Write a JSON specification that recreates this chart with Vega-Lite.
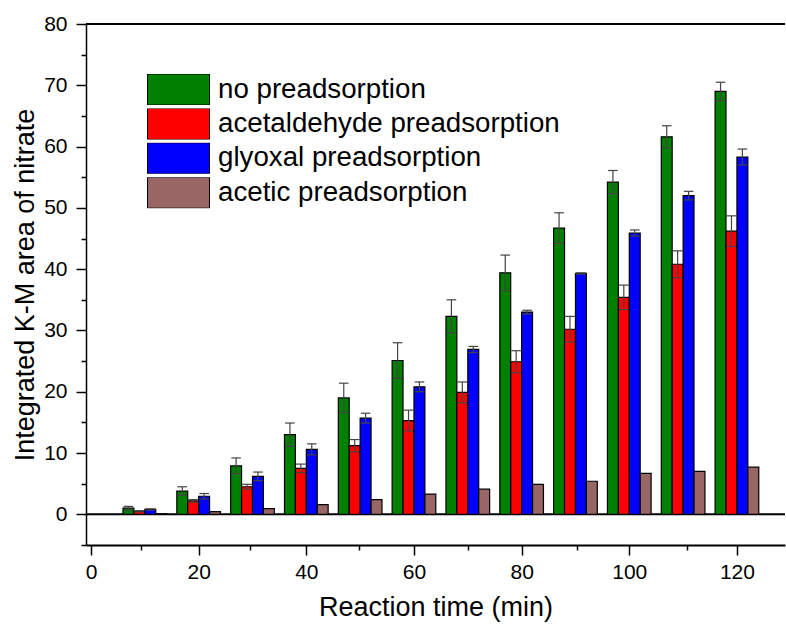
{
  "$schema": "https://vega.github.io/schema/vega-lite/v6.json",
  "width": 699,
  "height": 521,
  "autosize": {"type": "none"},
  "padding": {"left": 86, "top": 24, "right": 1, "bottom": 84},
  "background": "white",
  "config": {
    "font": "Liberation Sans",
    "view": {"stroke": null},
    "axis": {
      "grid": false,
      "domainColor": "black",
      "tickColor": "black",
      "labelColor": "black",
      "titleColor": "black",
      "labelFont": "Liberation Sans",
      "titleFont": "Liberation Sans",
      "titleFontWeight": "normal"
    }
  },
  "resolve": {"scale": {"x": "independent", "y": "independent"}},
  "datasets": {
    "bars": [
      {"t": 10, "s": "no preadsorption", "v": 1.0, "lo": 0.7, "hi": 1.3},
      {"t": 20, "s": "no preadsorption", "v": 3.8, "lo": 3.1, "hi": 4.5},
      {"t": 30, "s": "no preadsorption", "v": 7.9, "lo": 6.6, "hi": 9.2},
      {"t": 40, "s": "no preadsorption", "v": 13.0, "lo": 11.1, "hi": 14.9},
      {"t": 50, "s": "no preadsorption", "v": 19.0, "lo": 16.6, "hi": 21.4},
      {"t": 60, "s": "no preadsorption", "v": 25.1, "lo": 22.2, "hi": 28.0},
      {"t": 70, "s": "no preadsorption", "v": 32.3, "lo": 29.6, "hi": 35.0},
      {"t": 80, "s": "no preadsorption", "v": 39.4, "lo": 36.5, "hi": 42.3},
      {"t": 90, "s": "no preadsorption", "v": 46.7, "lo": 44.2, "hi": 49.2},
      {"t": 100, "s": "no preadsorption", "v": 54.2, "lo": 52.3, "hi": 56.1},
      {"t": 110, "s": "no preadsorption", "v": 61.6, "lo": 59.8, "hi": 63.4},
      {"t": 120, "s": "no preadsorption", "v": 69.0, "lo": 67.5, "hi": 70.5},
      {"t": 10, "s": "acetaldehyde preadsorption", "v": 0.5, "lo": 0.4, "hi": 0.6},
      {"t": 20, "s": "acetaldehyde preadsorption", "v": 2.2, "lo": 2.0, "hi": 2.4},
      {"t": 30, "s": "acetaldehyde preadsorption", "v": 4.5, "lo": 4.1, "hi": 4.9},
      {"t": 40, "s": "acetaldehyde preadsorption", "v": 7.5, "lo": 6.8, "hi": 8.2},
      {"t": 50, "s": "acetaldehyde preadsorption", "v": 11.2, "lo": 10.2, "hi": 12.2},
      {"t": 60, "s": "acetaldehyde preadsorption", "v": 15.3, "lo": 13.6, "hi": 17.0},
      {"t": 70, "s": "acetaldehyde preadsorption", "v": 19.9, "lo": 18.2, "hi": 21.6},
      {"t": 80, "s": "acetaldehyde preadsorption", "v": 24.9, "lo": 23.1, "hi": 26.7},
      {"t": 90, "s": "acetaldehyde preadsorption", "v": 30.2, "lo": 28.1, "hi": 32.3},
      {"t": 100, "s": "acetaldehyde preadsorption", "v": 35.4, "lo": 33.4, "hi": 37.4},
      {"t": 110, "s": "acetaldehyde preadsorption", "v": 40.8, "lo": 38.6, "hi": 43.0},
      {"t": 120, "s": "acetaldehyde preadsorption", "v": 46.2, "lo": 43.7, "hi": 48.7},
      {"t": 10, "s": "glyoxal preadsorption", "v": 0.8, "lo": 0.7, "hi": 0.9},
      {"t": 20, "s": "glyoxal preadsorption", "v": 2.95, "lo": 2.5, "hi": 3.4},
      {"t": 30, "s": "glyoxal preadsorption", "v": 6.2, "lo": 5.5, "hi": 6.9},
      {"t": 40, "s": "glyoxal preadsorption", "v": 10.6, "lo": 9.7, "hi": 11.5},
      {"t": 50, "s": "glyoxal preadsorption", "v": 15.7, "lo": 14.9, "hi": 16.5},
      {"t": 60, "s": "glyoxal preadsorption", "v": 20.8, "lo": 20.0, "hi": 21.6},
      {"t": 70, "s": "glyoxal preadsorption", "v": 26.9, "lo": 26.4, "hi": 27.4},
      {"t": 80, "s": "glyoxal preadsorption", "v": 33.0, "lo": 32.7, "hi": 33.3},
      {"t": 90, "s": "glyoxal preadsorption", "v": 39.3, "lo": 39.2, "hi": 39.4},
      {"t": 100, "s": "glyoxal preadsorption", "v": 45.9, "lo": 45.4, "hi": 46.4},
      {"t": 110, "s": "glyoxal preadsorption", "v": 52.0, "lo": 51.3, "hi": 52.7},
      {"t": 120, "s": "glyoxal preadsorption", "v": 58.3, "lo": 57.0, "hi": 59.6},
      {"t": 10, "s": "acetic preadsorption", "v": 0.1, "lo": 0.05, "hi": 0.15},
      {"t": 20, "s": "acetic preadsorption", "v": 0.45, "lo": 0.4, "hi": 0.5},
      {"t": 30, "s": "acetic preadsorption", "v": 0.95, "lo": 0.9, "hi": 1.0},
      {"t": 40, "s": "acetic preadsorption", "v": 1.6, "lo": 1.5, "hi": 1.7},
      {"t": 50, "s": "acetic preadsorption", "v": 2.4, "lo": 2.3, "hi": 2.5},
      {"t": 60, "s": "acetic preadsorption", "v": 3.3, "lo": 3.2, "hi": 3.4},
      {"t": 70, "s": "acetic preadsorption", "v": 4.1, "lo": 4.0, "hi": 4.2},
      {"t": 80, "s": "acetic preadsorption", "v": 4.9, "lo": 4.8, "hi": 5.0},
      {"t": 90, "s": "acetic preadsorption", "v": 5.4, "lo": 5.3, "hi": 5.5},
      {"t": 100, "s": "acetic preadsorption", "v": 6.7, "lo": 6.6, "hi": 6.8},
      {"t": 110, "s": "acetic preadsorption", "v": 7.0, "lo": 6.9, "hi": 7.1},
      {"t": 120, "s": "acetic preadsorption", "v": 7.7, "lo": 7.6, "hi": 7.8}
    ]
  },
  "data": {"name": "bars"},
  "layer": [
    {
      "data": {"values": [{"edge": "top"}]},
      "mark": {"type": "rule", "color": "black", "strokeWidth": 2},
      "encoding": {
        "x": {
          "datum": 0,
          "type": "quantitative",
          "scale": {"domain": [0, 128], "nice": false, "zero": false},
          "axis": {
            "orient": "bottom",
            "values": [10, 30, 50, 70, 90, 110],
            "labels": false,
            "domain": false,
            "title": null,
            "tickSize": 5,
            "tickWidth": 1.5
          }
        },
        "x2": {"datum": 128},
        "y": {
          "datum": 80,
          "type": "quantitative",
          "scale": {"domain": [-5, 80], "nice": false, "zero": false},
          "axis": {
            "orient": "left",
            "values": [-5, 5, 15, 25, 35, 45, 55, 65, 75],
            "labels": false,
            "domain": false,
            "title": null,
            "tickSize": 5,
            "tickWidth": 1.5
          }
        }
      }
    },
    {
      "data": {"values": [{"edge": "zero"}]},
      "mark": {"type": "rule", "color": "black", "strokeWidth": 2},
      "encoding": {
        "x": {"datum": 0, "type": "quantitative", "scale": {"domain": [0, 128], "nice": false, "zero": false}, "axis": null},
        "x2": {"datum": 128},
        "y": {"datum": 0, "type": "quantitative", "scale": {"domain": [-5, 80], "nice": false, "zero": false}, "axis": null}
      }
    },
    {
      "transform": [{"filter": "datum.s === 'no preadsorption'"}],
      "layer": [
        {
          "mark": {"type": "bar", "width": 10.9, "xOffset": -16.38, "stroke": "black", "strokeWidth": 1.2},
          "encoding": {
            "x": {
              "field": "t",
              "type": "quantitative",
              "scale": {"domain": [0, 128], "nice": false, "zero": false},
              "axis": {
                "orient": "bottom",
                "values": [0, 20, 40, 60, 80, 100, 120],
                "tickSize": 10,
                "tickWidth": 1.5,
                "domainWidth": 2,
                "labelFontSize": 21,
                "labelPadding": 6,
                "labelFlush": false,
                "labelOverlap": false,
                "title": "Reaction time (min)",
                "titleFontSize": 27,
                "titlePadding": 12
              }
            },
            "y": {
              "field": "v",
              "type": "quantitative",
              "stack": null,
              "scale": {"domain": [-5, 80], "nice": false, "zero": false},
              "axis": {
                "orient": "left",
                "values": [0, 10, 20, 30, 40, 50, 60, 70, 80],
                "tickSize": 10,
                "tickWidth": 1.5,
                "domainWidth": 1.5,
                "labelFontSize": 21,
                "labelPadding": 9,
                "labelOverlap": false,
                "labelFlush": false,
                "title": "Integrated K-M area of nitrate",
                "titleFontSize": 27,
                "titlePadding": 4
              }
            },
            "color": {
              "field": "s",
              "type": "nominal",
              "scale": {
                "domain": ["no preadsorption", "acetaldehyde preadsorption", "glyoxal preadsorption", "acetic preadsorption"],
                "range": ["#008000", "#ff0000", "#0000ff", "#996666"]
              },
              "legend": {
                "title": null,
                "orient": "none",
                "legendX": 61,
                "legendY": 50,
                "padding": 0,
                "symbolType": "M-1,-0.5H1V0.5H-1Z",
                "symbolSize": 3844,
                "clipHeight": 31,
                "rowPadding": 3.4,
                "symbolStrokeColor": "black",
                "symbolStrokeWidth": 1,
                "symbolOpacity": 1,
                "labelFontSize": 27.7,
                "labelFont": "Liberation Sans",
                "labelColor": "black",
                "labelOffset": 8,
                "labelLimit": 0
              }
            }
          }
        },
        {
          "mark": {"type": "rule", "xOffset": -16.38, "color": "#444444", "strokeWidth": 1.2},
          "encoding": {
            "x": {"field": "t", "type": "quantitative"},
            "y": {"field": "lo", "type": "quantitative"},
            "y2": {"field": "hi"}
          }
        },
        {
          "mark": {"type": "rule", "xOffset": -21.2, "x2Offset": -11.6, "color": "#444444", "strokeWidth": 1.2},
          "encoding": {
            "x": {"field": "t", "type": "quantitative"},
            "x2": {"field": "t"},
            "y": {"field": "hi", "type": "quantitative"}
          }
        },
        {
          "mark": {"type": "rule", "xOffset": -21.2, "x2Offset": -11.6, "color": "#444444", "strokeWidth": 1.2},
          "encoding": {
            "x": {"field": "t", "type": "quantitative"},
            "x2": {"field": "t"},
            "y": {"field": "lo", "type": "quantitative"}
          }
        }
      ]
    },
    {
      "transform": [{"filter": "datum.s === 'acetaldehyde preadsorption'"}],
      "layer": [
        {
          "mark": {"type": "bar", "width": 10.9, "xOffset": -5.46, "stroke": "black", "strokeWidth": 1.2},
          "encoding": {
            "x": {"field": "t", "type": "quantitative", "scale": {"domain": [0, 128], "nice": false, "zero": false}, "axis": null},
            "y": {"field": "v", "type": "quantitative", "stack": null, "scale": {"domain": [-5, 80], "nice": false, "zero": false}, "axis": null},
            "color": {"field": "s", "type": "nominal"}
          }
        },
        {
          "mark": {"type": "rule", "xOffset": -5.46, "color": "#444444", "strokeWidth": 1.2},
          "encoding": {
            "x": {"field": "t", "type": "quantitative", "axis": null},
            "y": {"field": "lo", "type": "quantitative", "axis": null},
            "y2": {"field": "hi"}
          }
        },
        {
          "mark": {"type": "rule", "xOffset": -10.3, "x2Offset": -0.7, "color": "#444444", "strokeWidth": 1.2},
          "encoding": {
            "x": {"field": "t", "type": "quantitative", "axis": null},
            "x2": {"field": "t"},
            "y": {"field": "hi", "type": "quantitative", "axis": null}
          }
        },
        {
          "mark": {"type": "rule", "xOffset": -10.3, "x2Offset": -0.7, "color": "#444444", "strokeWidth": 1.2},
          "encoding": {
            "x": {"field": "t", "type": "quantitative", "axis": null},
            "x2": {"field": "t"},
            "y": {"field": "lo", "type": "quantitative", "axis": null}
          }
        }
      ]
    },
    {
      "transform": [{"filter": "datum.s === 'glyoxal preadsorption'"}],
      "layer": [
        {
          "mark": {"type": "bar", "width": 10.9, "xOffset": 5.46, "stroke": "black", "strokeWidth": 1.2},
          "encoding": {
            "x": {"field": "t", "type": "quantitative", "scale": {"domain": [0, 128], "nice": false, "zero": false}, "axis": null},
            "y": {"field": "v", "type": "quantitative", "stack": null, "scale": {"domain": [-5, 80], "nice": false, "zero": false}, "axis": null},
            "color": {"field": "s", "type": "nominal"}
          }
        },
        {
          "mark": {"type": "rule", "xOffset": 5.46, "color": "#444444", "strokeWidth": 1.2},
          "encoding": {
            "x": {"field": "t", "type": "quantitative", "axis": null},
            "y": {"field": "lo", "type": "quantitative", "axis": null},
            "y2": {"field": "hi"}
          }
        },
        {
          "mark": {"type": "rule", "xOffset": 0.7, "x2Offset": 10.3, "color": "#444444", "strokeWidth": 1.2},
          "encoding": {
            "x": {"field": "t", "type": "quantitative", "axis": null},
            "x2": {"field": "t"},
            "y": {"field": "hi", "type": "quantitative", "axis": null}
          }
        },
        {
          "mark": {"type": "rule", "xOffset": 0.7, "x2Offset": 10.3, "color": "#444444", "strokeWidth": 1.2},
          "encoding": {
            "x": {"field": "t", "type": "quantitative", "axis": null},
            "x2": {"field": "t"},
            "y": {"field": "lo", "type": "quantitative", "axis": null}
          }
        }
      ]
    },
    {
      "transform": [{"filter": "datum.s === 'acetic preadsorption'"}],
      "mark": {"type": "bar", "width": 10.9, "xOffset": 16.38, "stroke": "black", "strokeWidth": 1.2},
      "encoding": {
        "x": {"field": "t", "type": "quantitative", "scale": {"domain": [0, 128], "nice": false, "zero": false}, "axis": null},
        "y": {"field": "v", "type": "quantitative", "stack": null, "scale": {"domain": [-5, 80], "nice": false, "zero": false}, "axis": null},
        "color": {"field": "s", "type": "nominal"}
      }
    }
  ]
}
